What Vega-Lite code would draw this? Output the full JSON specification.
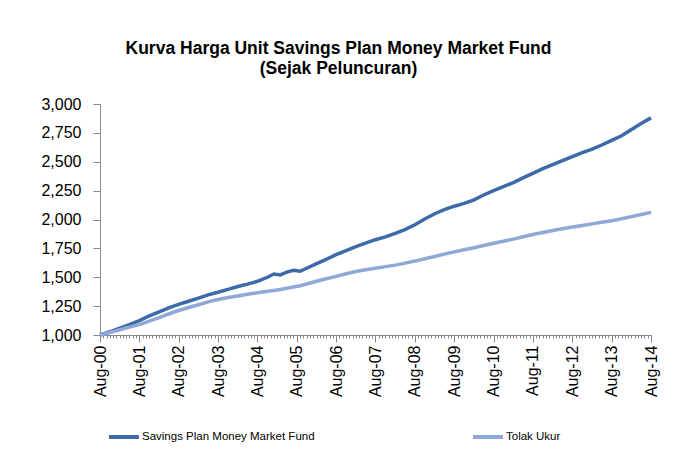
{
  "$schema": "https://vega.github.io/schema/vega-lite/v6.json",
  "width": 551,
  "height": 231,
  "autosize": {"type": "none"},
  "padding": {"left": 100, "top": 104, "right": 31, "bottom": 118},
  "background": "white",
  "config": {"view": {"stroke": null}, "font": "Liberation Sans"},
  "title": {
    "text": ["Kurva Harga Unit Savings Plan Money Market Fund", "(Sejak Peluncuran)"],
    "fontSize": 17.5,
    "fontWeight": "bold",
    "font": "Liberation Sans",
    "color": "black",
    "anchor": "middle",
    "dx": -37,
    "offset": 19,
    "lineHeight": 20
  },
  "data": {
    "values": [
      {"d": "2000-08-01T00:00", "fund": 1000, "bench": 1000},
      {"d": "2000-11-01T00:00", "fund": 1028, "bench": 1022},
      {"d": "2001-02-01T00:00", "fund": 1060, "bench": 1045},
      {"d": "2001-05-01T00:00", "fund": 1090, "bench": 1068},
      {"d": "2001-08-01T00:00", "fund": 1125, "bench": 1090},
      {"d": "2001-11-01T00:00", "fund": 1165, "bench": 1120},
      {"d": "2002-02-01T00:00", "fund": 1200, "bench": 1150},
      {"d": "2002-05-01T00:00", "fund": 1235, "bench": 1182},
      {"d": "2002-08-01T00:00", "fund": 1265, "bench": 1212},
      {"d": "2002-11-01T00:00", "fund": 1292, "bench": 1238},
      {"d": "2003-02-01T00:00", "fund": 1320, "bench": 1262},
      {"d": "2003-05-01T00:00", "fund": 1348, "bench": 1287},
      {"d": "2003-08-01T00:00", "fund": 1370, "bench": 1308},
      {"d": "2003-11-01T00:00", "fund": 1395, "bench": 1324},
      {"d": "2004-02-01T00:00", "fund": 1420, "bench": 1338},
      {"d": "2004-05-01T00:00", "fund": 1440, "bench": 1352},
      {"d": "2004-08-01T00:00", "fund": 1465, "bench": 1365},
      {"d": "2004-11-01T00:00", "fund": 1500, "bench": 1378},
      {"d": "2005-01-01T00:00", "fund": 1528, "bench": 1386},
      {"d": "2005-03-01T00:00", "fund": 1520, "bench": 1394},
      {"d": "2005-05-01T00:00", "fund": 1545, "bench": 1404},
      {"d": "2005-07-01T00:00", "fund": 1560, "bench": 1415},
      {"d": "2005-09-01T00:00", "fund": 1552, "bench": 1427},
      {"d": "2005-11-01T00:00", "fund": 1578, "bench": 1442},
      {"d": "2006-02-01T00:00", "fund": 1618, "bench": 1465},
      {"d": "2006-05-01T00:00", "fund": 1655, "bench": 1487},
      {"d": "2006-08-01T00:00", "fund": 1695, "bench": 1508},
      {"d": "2006-11-01T00:00", "fund": 1730, "bench": 1530},
      {"d": "2007-02-01T00:00", "fund": 1765, "bench": 1550},
      {"d": "2007-05-01T00:00", "fund": 1795, "bench": 1565},
      {"d": "2007-08-01T00:00", "fund": 1825, "bench": 1578},
      {"d": "2007-11-01T00:00", "fund": 1850, "bench": 1592},
      {"d": "2008-02-01T00:00", "fund": 1880, "bench": 1605},
      {"d": "2008-05-01T00:00", "fund": 1912, "bench": 1622},
      {"d": "2008-08-01T00:00", "fund": 1955, "bench": 1640},
      {"d": "2008-11-01T00:00", "fund": 2005, "bench": 1660},
      {"d": "2009-02-01T00:00", "fund": 2050, "bench": 1680},
      {"d": "2009-05-01T00:00", "fund": 2085, "bench": 1700},
      {"d": "2009-08-01T00:00", "fund": 2115, "bench": 1720},
      {"d": "2009-11-01T00:00", "fund": 2140, "bench": 1738},
      {"d": "2010-02-01T00:00", "fund": 2170, "bench": 1755},
      {"d": "2010-05-01T00:00", "fund": 2212, "bench": 1775},
      {"d": "2010-08-01T00:00", "fund": 2250, "bench": 1795},
      {"d": "2010-11-01T00:00", "fund": 2285, "bench": 1812},
      {"d": "2011-02-01T00:00", "fund": 2320, "bench": 1830},
      {"d": "2011-05-01T00:00", "fund": 2360, "bench": 1850},
      {"d": "2011-08-01T00:00", "fund": 2400, "bench": 1870},
      {"d": "2011-11-01T00:00", "fund": 2440, "bench": 1888},
      {"d": "2012-02-01T00:00", "fund": 2475, "bench": 1905},
      {"d": "2012-05-01T00:00", "fund": 2510, "bench": 1920},
      {"d": "2012-08-01T00:00", "fund": 2545, "bench": 1935},
      {"d": "2012-11-01T00:00", "fund": 2578, "bench": 1948},
      {"d": "2013-02-01T00:00", "fund": 2610, "bench": 1962},
      {"d": "2013-05-01T00:00", "fund": 2645, "bench": 1976},
      {"d": "2013-08-01T00:00", "fund": 2685, "bench": 1990},
      {"d": "2013-11-01T00:00", "fund": 2725, "bench": 2007},
      {"d": "2014-02-01T00:00", "fund": 2780, "bench": 2025},
      {"d": "2014-05-01T00:00", "fund": 2832, "bench": 2043},
      {"d": "2014-08-01T00:00", "fund": 2880, "bench": 2062}
    ]
  },
  "transform": [{"fold": ["fund", "bench"], "as": ["series", "value"]}],
  "mark": {"type": "line", "strokeWidth": 3.5},
  "encoding": {
    "x": {
      "field": "d",
      "type": "temporal",
      "scale": {"domain": [{"year": 2000, "month": 8, "date": 1}, {"year": 2014, "month": 8, "date": 1}], "nice": false},
      "axis": {
        "orient": "bottom",
        "values": [
          {"year":2000,"month":8},{"year":2000,"month":9},{"year":2000,"month":10},{"year":2000,"month":11},{"year":2000,"month":12},
          {"year":2001,"month":1},{"year":2001,"month":2},{"year":2001,"month":3},{"year":2001,"month":4},{"year":2001,"month":5},{"year":2001,"month":6},{"year":2001,"month":7},{"year":2001,"month":8},{"year":2001,"month":9},{"year":2001,"month":10},{"year":2001,"month":11},{"year":2001,"month":12},
          {"year":2002,"month":1},{"year":2002,"month":2},{"year":2002,"month":3},{"year":2002,"month":4},{"year":2002,"month":5},{"year":2002,"month":6},{"year":2002,"month":7},{"year":2002,"month":8},{"year":2002,"month":9},{"year":2002,"month":10},{"year":2002,"month":11},{"year":2002,"month":12},
          {"year":2003,"month":1},{"year":2003,"month":2},{"year":2003,"month":3},{"year":2003,"month":4},{"year":2003,"month":5},{"year":2003,"month":6},{"year":2003,"month":7},{"year":2003,"month":8},{"year":2003,"month":9},{"year":2003,"month":10},{"year":2003,"month":11},{"year":2003,"month":12},
          {"year":2004,"month":1},{"year":2004,"month":2},{"year":2004,"month":3},{"year":2004,"month":4},{"year":2004,"month":5},{"year":2004,"month":6},{"year":2004,"month":7},{"year":2004,"month":8},{"year":2004,"month":9},{"year":2004,"month":10},{"year":2004,"month":11},{"year":2004,"month":12},
          {"year":2005,"month":1},{"year":2005,"month":2},{"year":2005,"month":3},{"year":2005,"month":4},{"year":2005,"month":5},{"year":2005,"month":6},{"year":2005,"month":7},{"year":2005,"month":8},{"year":2005,"month":9},{"year":2005,"month":10},{"year":2005,"month":11},{"year":2005,"month":12},
          {"year":2006,"month":1},{"year":2006,"month":2},{"year":2006,"month":3},{"year":2006,"month":4},{"year":2006,"month":5},{"year":2006,"month":6},{"year":2006,"month":7},{"year":2006,"month":8},{"year":2006,"month":9},{"year":2006,"month":10},{"year":2006,"month":11},{"year":2006,"month":12},
          {"year":2007,"month":1},{"year":2007,"month":2},{"year":2007,"month":3},{"year":2007,"month":4},{"year":2007,"month":5},{"year":2007,"month":6},{"year":2007,"month":7},{"year":2007,"month":8},{"year":2007,"month":9},{"year":2007,"month":10},{"year":2007,"month":11},{"year":2007,"month":12},
          {"year":2008,"month":1},{"year":2008,"month":2},{"year":2008,"month":3},{"year":2008,"month":4},{"year":2008,"month":5},{"year":2008,"month":6},{"year":2008,"month":7},{"year":2008,"month":8},{"year":2008,"month":9},{"year":2008,"month":10},{"year":2008,"month":11},{"year":2008,"month":12},
          {"year":2009,"month":1},{"year":2009,"month":2},{"year":2009,"month":3},{"year":2009,"month":4},{"year":2009,"month":5},{"year":2009,"month":6},{"year":2009,"month":7},{"year":2009,"month":8},{"year":2009,"month":9},{"year":2009,"month":10},{"year":2009,"month":11},{"year":2009,"month":12},
          {"year":2010,"month":1},{"year":2010,"month":2},{"year":2010,"month":3},{"year":2010,"month":4},{"year":2010,"month":5},{"year":2010,"month":6},{"year":2010,"month":7},{"year":2010,"month":8},{"year":2010,"month":9},{"year":2010,"month":10},{"year":2010,"month":11},{"year":2010,"month":12},
          {"year":2011,"month":1},{"year":2011,"month":2},{"year":2011,"month":3},{"year":2011,"month":4},{"year":2011,"month":5},{"year":2011,"month":6},{"year":2011,"month":7},{"year":2011,"month":8},{"year":2011,"month":9},{"year":2011,"month":10},{"year":2011,"month":11},{"year":2011,"month":12},
          {"year":2012,"month":1},{"year":2012,"month":2},{"year":2012,"month":3},{"year":2012,"month":4},{"year":2012,"month":5},{"year":2012,"month":6},{"year":2012,"month":7},{"year":2012,"month":8},{"year":2012,"month":9},{"year":2012,"month":10},{"year":2012,"month":11},{"year":2012,"month":12},
          {"year":2013,"month":1},{"year":2013,"month":2},{"year":2013,"month":3},{"year":2013,"month":4},{"year":2013,"month":5},{"year":2013,"month":6},{"year":2013,"month":7},{"year":2013,"month":8},{"year":2013,"month":9},{"year":2013,"month":10},{"year":2013,"month":11},{"year":2013,"month":12},
          {"year":2014,"month":1},{"year":2014,"month":2},{"year":2014,"month":3},{"year":2014,"month":4},{"year":2014,"month":5},{"year":2014,"month":6},{"year":2014,"month":7},{"year":2014,"month":8}
        ],
        "format": "%b-%y",
        "labelExpr": "month(datum.value) == 7 ? datum.label : ''",
        "labelAngle": -90,
        "labelFontSize": 16,
        "labelColor": "black",
        "labelPadding": 3,
        "labelFont": "Liberation Sans",
        "tickSize": {"condition": {"test": "month(datum.value) == 7", "value": 7}, "value": 3},
        "tickColor": "#888888",
        "domainColor": "#888888",
        "grid": false,
        "title": null,
        "labelOverlap": false,
        "labelBound": false,
        "labelFlush": false
      }
    },
    "y": {
      "field": "value",
      "type": "quantitative",
      "scale": {"domain": [1000, 3000], "nice": false, "zero": false},
      "axis": {
        "orient": "left",
        "values": [1000, 1250, 1500, 1750, 2000, 2250, 2500, 2750, 3000],
        "format": ",.0f",
        "labelFontSize": 16,
        "labelColor": "black",
        "labelFont": "Liberation Sans",
        "labelPadding": 12,
        "tickSize": 7,
        "tickColor": "#888888",
        "domainColor": "#888888",
        "grid": false,
        "title": null
      }
    },
    "color": {
      "field": "series",
      "type": "nominal",
      "scale": {"domain": ["fund", "bench"], "range": ["#3D6AA8", "#8EA9D5"]},
      "legend": {
        "orient": "none",
        "legendX": 7,
        "legendY": 316,
        "direction": "horizontal",
        "title": null,
        "symbolType": "stroke",
        "symbolSize": 900,
        "symbolStrokeWidth": 4,
        "labelFontSize": 11.5,
        "labelFont": "Liberation Sans",
        "labelColor": "black",
        "labelOffset": 1,
        "labelLimit": 300,
        "columnPadding": 150,
        "labelExpr": "datum.label == 'fund' ? 'Savings Plan Money Market Fund' : 'Tolak Ukur'"
      }
    }
  }
}
